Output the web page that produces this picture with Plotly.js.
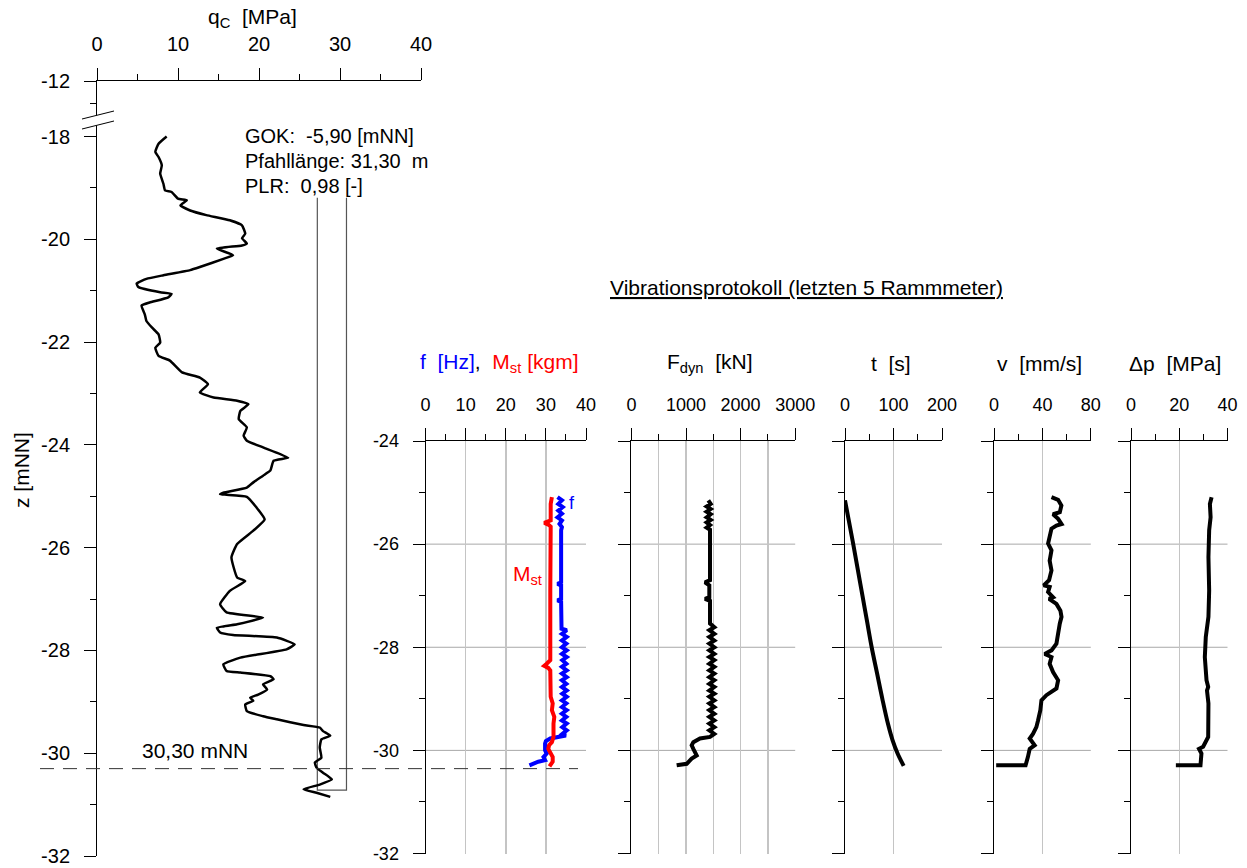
<!DOCTYPE html>
<html><head><meta charset="utf-8">
<script src="https://cdn.plot.ly/plotly-3.0.1.min.js"></script>
<style>html,body{margin:0;padding:0;background:#fff;} #chart{width:1247px;height:868px;}</style>
</head><body><div id="chart"></div>
<script>
// ---------------- DATA ----------------
// CPT cone resistance qc [MPa] vs depth z [mNN]
const qcDepth = [-18.00,-18.14,-18.30,-18.40,-18.56,-18.72,-18.92,-19.05,-19.08,-19.21,-19.24,-19.34,-19.44,-19.53,-19.63,-19.73,-19.89,-19.98,-20.08,-20.12,-20.18,-20.31,-20.38,-20.54,-20.60,-20.70,-20.77,-20.86,-20.93,-21.03,-21.06,-21.13,-21.23,-21.29,-21.46,-21.59,-21.72,-21.85,-22.01,-22.11,-22.27,-22.36,-22.59,-22.69,-22.82,-22.98,-23.08,-23.14,-23.21,-23.34,-23.50,-23.66,-23.82,-23.92,-24.05,-24.25,-24.31,-24.50,-24.60,-24.73,-24.83,-24.93,-24.96,-24.97,-25.01,-25.22,-25.45,-25.67,-25.93,-26.19,-26.58,-26.65,-26.84,-27.10,-27.26,-27.36,-27.49,-27.56,-27.65,-27.70,-27.75,-27.88,-27.98,-28.14,-28.27,-28.40,-28.43,-28.50,-28.56,-28.66,-28.76,-28.86,-28.92,-28.98,-29.05,-29.18,-29.28,-29.34,-29.45,-29.50,-29.57,-29.66,-29.73,-29.89,-30.09,-30.18,-30.28,-30.38,-30.51,-30.61,-30.70,-30.77,-30.85];
const qcValue = [8.6,7.6,7.2,7.6,8.0,7.8,8.2,8.4,9.2,10.0,11.1,10.3,11.5,13.5,16.4,17.9,18.3,17.9,18.5,17.9,14.8,16.8,15.6,12.7,11.5,8.2,6.1,4.9,5.1,7.8,9.2,8.8,6.5,5.5,5.9,6.1,6.8,7.6,7.8,7.2,7.6,9.0,10.5,12.7,13.7,12.7,14.4,17.3,18.7,17.7,17.5,18.5,18.1,18.5,20.5,23.6,21.8,21.4,20.5,19.3,18.5,15.6,15.2,16.0,18.5,19.7,20.7,19.3,17.3,16.6,17.3,18.3,16.4,15.2,16.0,20.5,17.3,14.8,15.2,16.8,22.2,24.4,23.4,17.7,15.6,16.0,17.7,21.4,21.8,20.5,21.0,19.9,18.9,19.3,18.3,18.5,20.5,22.2,25.5,27.5,27.9,28.8,27.7,27.5,27.7,26.9,27.1,27.9,29.0,27.5,25.5,27.1,28.8];

// Pile outline (qc scale, depth)
const pileX = [27.2, 27.2, 30.8, 30.8];
const pileZ = [-19.19, -30.72, -30.72, -19.19];
const pileTipLevel = -30.30;

// Frequency f [Hz]
const fDepth = [-25.09,-25.15,-25.22,-25.28,-25.35,-25.41,-25.48,-25.54,-25.61,-25.67,-25.73,-26.74,-26.77,-26.80,-27.06,-27.09,-27.12,-27.64,-27.67,-27.74,-27.80,-27.87,-27.93,-28.00,-28.06,-28.13,-28.19,-28.25,-28.32,-28.38,-28.45,-28.51,-28.58,-28.64,-28.71,-28.77,-28.84,-28.90,-28.96,-29.03,-29.09,-29.16,-29.22,-29.29,-29.35,-29.42,-29.48,-29.55,-29.61,-29.68,-29.71,-29.74,-29.77,-29.82,-29.87,-30.00,-30.06,-30.13,-30.19,-30.22,-30.27,-30.29];
const fValue = [32.9,34.0,33.1,34.2,33.1,34.0,32.9,34.0,33.4,34.0,33.8,33.8,32.9,33.8,33.8,32.9,33.8,33.9,35.2,34.0,35.2,34.0,35.1,34.0,35.2,34.0,35.2,34.1,35.1,34.0,35.2,34.0,35.2,34.0,35.1,34.0,35.2,34.1,35.2,34.0,35.1,34.0,35.2,34.0,35.1,34.0,35.2,34.1,35.2,34.1,35.0,33.1,31.1,30.0,29.8,29.8,30.2,29.4,29.8,28.1,26.5,25.9];

// Static moment Mst [kgm]
const mstDepth = [-25.09,-25.22,-25.54,-25.57,-25.59,-25.62,-25.66,-26.90,-27.50,-28.25,-28.32,-28.36,-28.40,-28.45,-28.96,-29.09,-29.22,-29.35,-29.48,-29.61,-29.74,-29.84,-29.90,-29.97,-30.06,-30.13,-30.22,-30.31];
const mstValue = [31.5,31.2,31.2,30.2,29.6,30.6,31.2,31.1,31.2,31.1,30.2,29.6,30.6,31.1,31.2,31.7,31.5,32.1,31.9,31.9,31.9,31.5,30.8,30.6,31.2,31.7,31.7,30.9];

// Dynamic force Fdyn [kN]
const fdynDepth = [-25.15,-25.22,-25.27,-25.32,-25.37,-25.42,-25.48,-25.53,-25.58,-25.63,-25.68,-25.72,-26.70,-26.74,-26.80,-27.03,-27.06,-27.10,-27.54,-27.61,-27.67,-27.74,-27.80,-27.87,-27.93,-28.00,-28.06,-28.13,-28.19,-28.25,-28.32,-28.38,-28.45,-28.51,-28.58,-28.64,-28.71,-28.77,-28.84,-28.90,-28.96,-29.03,-29.09,-29.16,-29.22,-29.29,-29.35,-29.42,-29.48,-29.55,-29.61,-29.68,-29.74,-29.77,-29.84,-29.90,-29.97,-30.03,-30.10,-30.16,-30.22,-30.26,-30.29];
const fdynValue = [1409,1452,1378,1452,1378,1452,1378,1452,1378,1440,1378,1440,1440,1348,1427,1427,1348,1440,1440,1519,1427,1519,1427,1519,1427,1519,1427,1519,1427,1519,1427,1519,1427,1519,1427,1519,1427,1519,1427,1519,1427,1519,1427,1519,1427,1519,1427,1519,1427,1519,1427,1519,1440,1256,1134,1104,1134,1165,1196,1104,1043,1013,829];

// Driving time t [s]
const tDepth = [-25.15,-25.50,-26.00,-26.50,-27.00,-27.50,-28.00,-28.50,-29.00,-29.50,-29.80,-30.05,-30.30];
const tValue = [0,7,17,26.5,36,45.5,55,66,77,89,98,108,121];

// Vibration velocity v [mm/s]
const vDepth = [-25.09,-25.14,-25.25,-25.38,-25.42,-25.51,-25.61,-25.64,-25.70,-25.86,-25.99,-26.12,-26.32,-26.51,-26.70,-26.80,-26.83,-26.93,-27.03,-27.06,-27.16,-27.29,-27.41,-27.54,-27.74,-27.93,-28.06,-28.13,-28.19,-28.32,-28.48,-28.64,-28.80,-28.87,-28.93,-29.03,-29.22,-29.42,-29.55,-29.68,-29.77,-29.90,-29.97,-30.13,-30.29,-30.29];
const vValue = [47.5,53.0,55.7,54.4,48.8,53.0,55.8,51.6,47.5,45.5,44.7,47.5,46.0,47.5,45.5,41.1,46.0,44.7,48.8,45.5,51.6,54.9,55.8,54.4,53.0,51.6,47.5,41.9,47.5,46.0,48.8,53.0,51.6,47.5,43.3,39.2,38.3,36.4,35.0,32.2,29.5,33.6,29.5,28.0,26.1,1.8];

// Pressure difference Δp [MPa]
const dpDepth = [-25.09,-25.22,-25.48,-25.73,-26.25,-26.90,-27.41,-27.80,-28.19,-28.64,-28.77,-28.84,-29.09,-29.74,-29.93,-29.97,-30.06,-30.29,-30.29];
const dpValue = [33.4,32.7,33.0,32.4,32.1,32.4,32.1,31.0,30.6,31.3,32.0,31.5,32.1,32.0,29.9,28.2,29.2,28.8,18.6];

// Tick labels
const leftDepthTicks = [-16.92,-18,-20,-22,-24,-26,-28,-30,-32];
const leftDepthLabels = ['-12','-18','-20','-22','-24','-26','-28','-30','-32'];
const leftMinorTicks = [-17.36,-19,-21,-23,-25,-27,-29,-31];
const rightDepthTicks = [-24,-26,-28,-30,-32];
const rightDepthLabels = ['-24','-26','-28','-30','-32'];

// ---------------- LAYOUT ----------------
const W = 1247, H = 868, MT = 81, MB = 12, PH = H - MT - MB;
const FONT = 'Liberation Sans, Arial, sans-serif';
const FS_LEFT = 20, FS_RIGHT = 18, FS_TEXT = 21, FS_INFO = 20;
const nb = '\u00a0';
const PX = x => x / W;
const PY = y => (H - MB - y) / PH;
const vGrid = '#c4c4c4';
const hGrid = '#a8a8a8';
const rightDom = [PY(853.5), PY(441)];

function xAx(x0, x1, range, dtick, mdtick, anchor, grid, minorGrid, fs) {
  return {
    domain: [PX(x0), PX(x1)], range: range, anchor: anchor, side: 'top',
    showline: true, linecolor: '#000', linewidth: 1, mirror: false,
    ticks: 'outside', ticklen: 12, tickcolor: '#000', tickwidth: 1,
    tickmode: 'linear', tick0: 0, dtick: dtick,
    tickfont: {family: FONT, size: fs || FS_RIGHT, color: '#000'}, ticklabelstandoff: fs ? 9 : 10,
    showgrid: grid, gridcolor: vGrid, gridwidth: 1.5, zeroline: false,
    minor: {dtick: mdtick, tick0: 0, ticks: 'outside', ticklen: 6, tickcolor: '#000',
            showgrid: !!minorGrid, gridcolor: vGrid, gridwidth: 1.5},
    fixedrange: true
  };
}
function yRight(anchor, labels) {
  return {
    domain: rightDom, range: [-32, -24], anchor: anchor,
    showline: true, linecolor: '#000', linewidth: 1,
    ticks: 'outside', ticklen: 12, tickcolor: '#000',
    tickmode: 'array', tickvals: rightDepthTicks, ticktext: rightDepthLabels,
    showticklabels: labels, tickfont: {family: FONT, size: FS_RIGHT, color: '#000'}, ticklabelstandoff: 10,
    showgrid: false, zeroline: false,
    minor: {tickmode: 'linear', tick0: 0, dtick: 1, ticks: 'outside', ticklen: 6, tickcolor: '#000'},
    fixedrange: true
  };
}

const layout = {
  width: W, height: H,
  margin: {l: 0, r: 0, t: MT, b: MB, pad: 0},
  paper_bgcolor: '#fff', plot_bgcolor: 'rgba(0,0,0,0)',
  showlegend: false,
  font: {family: FONT, size: FS_RIGHT, color: '#000'},
  xaxis: xAx(97, 421, [0, 40], 10, 5, 'y', false, false, FS_LEFT),
  yaxis: {
    domain: [0, 1], range: [-32, -16.92], anchor: 'x',
    showline: true, linecolor: '#000', linewidth: 1,
    ticks: 'outside', ticklen: 12, tickcolor: '#000',
    tickmode: 'array', tickvals: leftDepthTicks, ticktext: leftDepthLabels,
    tickfont: {family: FONT, size: FS_LEFT, color: '#000'}, ticklabelstandoff: 10,
    showgrid: false, zeroline: false,
    minor: {tickmode: 'array', tickvals: leftMinorTicks, ticks: 'outside', ticklen: 6, tickcolor: '#000'},
    fixedrange: true
  },
  xaxis2: xAx(425.5, 586, [0, 40], 10, 5, 'y2', true),
  xaxis3: xAx(631.4, 795.2, [0, 3000], 1000, 500, 'y3', true, true),
  xaxis4: xAx(845, 942, [0, 200], 100, 50, 'y4', true),
  xaxis5: xAx(994, 1090.8, [0, 80], 40, 20, 'y5', true),
  xaxis6: xAx(1131, 1227.5, [0, 40], 20, 10, 'y6', true),
  yaxis2: yRight('x2', true),
  yaxis3: yRight('x3', false),
  yaxis4: yRight('x4', false),
  yaxis5: yRight('x5', false),
  yaxis6: yRight('x6', false),
  shapes: [],
  annotations: []
};

// horizontal grid lines in the right panels
['2','3','4','5','6'].forEach(k => {
  [-26, -28, -30].forEach(v => {
    layout.shapes.push({type: 'line', xref: 'x' + k + ' domain', yref: 'y' + k,
      x0: 0, x1: 1, y0: v, y1: v, layer: 'below', line: {color: hGrid, width: 1}});
  });
});
// dashed pile tip level line
layout.shapes.push({type: 'line', xref: 'paper', yref: 'y', x0: PX(40), x1: PX(578),
  y0: pileTipLevel, y1: pileTipLevel, line: {color: '#333', width: 1, dash: '14px,9px'}});
// axis break marks
const bp = (x, y) => PX(x).toFixed(5) + ',' + PY(y).toFixed(5);
layout.shapes.push({type: 'path', xref: 'paper', yref: 'paper',
  path: 'M' + bp(82, 119) + ' L' + bp(114, 111) + ' L' + bp(114, 121) + ' L' + bp(82, 129) + ' Z',
  fillcolor: '#fff', line: {width: 0}});
layout.shapes.push({type: 'line', xref: 'paper', yref: 'paper', x0: PX(82), y0: PY(119), x1: PX(114), y1: PY(111), line: {color: '#000', width: 1}});
layout.shapes.push({type: 'line', xref: 'paper', yref: 'paper', x0: PX(82), y0: PY(129), x1: PX(114), y1: PY(121), line: {color: '#000', width: 1}});

function ann(text, x, y, xa, opts, fs) {
  return Object.assign({text: text, xref: 'paper', yref: 'paper', x: PX(x), y: PY(y),
    xanchor: xa || 'center', yanchor: 'middle', showarrow: false,
    font: {family: FONT, size: fs || FS_TEXT, color: '#000'}}, opts || {});
}
layout.annotations.push(
  ann('q<sub>C</sub>' + nb + nb + '[MPa]', 252, 18),
  ann('GOK:' + nb + nb + '-5,90 [mNN]', 243, 136, 'left', null, FS_INFO),
  ann('Pfahllänge: 31,30' + nb + nb + 'm', 243, 161, 'left', null, FS_INFO),
  ann('PLR:' + nb + nb + '0,98 [-]', 243, 186, 'left', null, FS_INFO),
  ann('30,30 mNN', 140, 750, 'left'),
  ann('z' + nb + '[mNN]', 21, 470, 'center', {textangle: -90}),
  ann('<u>Vibrationsprotokoll (letzten 5 Rammmeter)</u>', 806, 287),
  ann('<span style="color:#0000ff">f' + nb + nb + '[Hz]</span>,' + nb + nb + '<span style="color:#ff0000">M<sub>st</sub> [kgm]</span>', 499, 363),
  ann('F<sub>dyn</sub>' + nb + nb + '[kN]', 710, 363),
  ann('t' + nb + nb + '[s]', 891, 363),
  ann('v' + nb + nb + '[mm/s]', 1039, 363),
  ann('Δp' + nb + nb + '[MPa]', 1175, 363),
  {text: 'f', xref: 'x2', yref: 'y2', x: 36.4, y: -25.2, showarrow: false, xanchor: 'center', yanchor: 'middle',
   font: {family: FONT, size: FS_RIGHT, color: '#0000ff'}},
  {text: 'M<sub>st</sub>', xref: 'x2', yref: 'y2', x: 25.3, y: -26.6, showarrow: false, xanchor: 'center', yanchor: 'middle',
   font: {family: FONT, size: FS_TEXT, color: '#ff0000'}}
);

// ---------------- TRACES ----------------
const traces = [
  {x: pileX, y: pileZ, xaxis: 'x', yaxis: 'y', mode: 'lines', line: {color: '#555', width: 1.2}, hoverinfo: 'skip'},
  {x: qcValue, y: qcDepth, xaxis: 'x', yaxis: 'y', mode: 'lines', line: {color: '#000', width: 2.5, shape: 'spline', smoothing: 0.4}},
  {x: fValue, y: fDepth, xaxis: 'x2', yaxis: 'y2', mode: 'lines', line: {color: '#0000ff', width: 4}},
  {x: mstValue, y: mstDepth, xaxis: 'x2', yaxis: 'y2', mode: 'lines', line: {color: '#ff0000', width: 4}},
  {x: fdynValue, y: fdynDepth, xaxis: 'x3', yaxis: 'y3', mode: 'lines', line: {color: '#000', width: 4}},
  {x: tValue, y: tDepth, xaxis: 'x4', yaxis: 'y4', mode: 'lines', line: {color: '#000', width: 4, shape: 'spline'}},
  {x: vValue, y: vDepth, xaxis: 'x5', yaxis: 'y5', mode: 'lines', line: {color: '#000', width: 4}},
  {x: dpValue, y: dpDepth, xaxis: 'x6', yaxis: 'y6', mode: 'lines', line: {color: '#000', width: 4}}
];

Plotly.newPlot('chart', traces, layout, {staticPlot: true, displayModeBar: false});
</script></body></html>
